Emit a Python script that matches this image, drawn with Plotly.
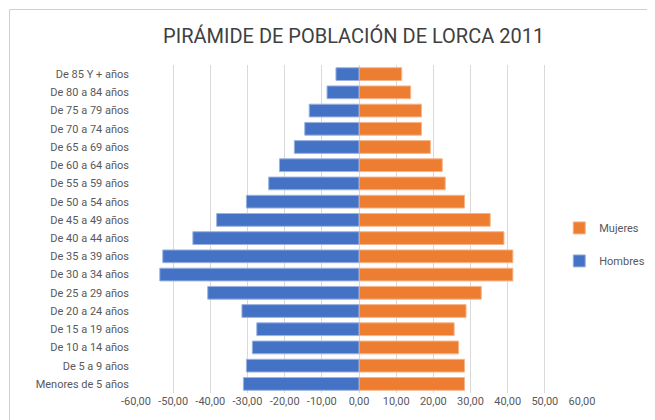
import plotly.graph_objects as go

categories = ["Menores de 5 años", "De 5 a 9 años", "De 10 a 14 años", "De 15 a 19 años",
              "De 20 a 24 años", "De 25 a 29 años", "De 30 a 34 años", "De 35 a 39 años",
              "De 40 a 44 años", "De 45 a 49 años", "De 50 a 54 años", "De 55 a 59 años",
              "De 60 a 64 años", "De 65 a 69 años", "De 70 a 74 años", "De 75 a 79 años",
              "De 80 a 84 años", "De 85 Y + años"]
hombres = [-31.1, -30.3, -28.7, -27.5, -31.5, -40.7, -53.6, -52.8, -44.7, -38.3,
           -30.3, -24.3, -21.4, -17.4, -14.6, -13.4, -8.6, -6.2]
mujeres = [28.4, 28.4, 26.8, 25.6, 28.8, 32.9, 41.4, 41.4, 39.0, 35.3,
           28.4, 23.2, 22.4, 19.2, 16.8, 16.8, 13.9, 11.5]
tick_vals = [-60, -50, -40, -30, -20, -10, 0, 10, 20, 30, 40, 50, 60]
tick_text = ["-60,00", "-50,00", "-40,00", "-30,00", "-20,00", "-10,00", "0,00",
             "10,00", "20,00", "30,00", "40,00", "50,00", "60,00"]

FONT = "Roboto, Arial, sans-serif"

fig = go.Figure()
fig.add_trace(go.Bar(y=categories, x=mujeres, orientation="h", name="Mujeres",
                     legendgroup="m",
                     marker=dict(color="#ED7D31", line=dict(color="#f6b48a", width=1))))
fig.add_trace(go.Bar(y=categories, x=hombres, orientation="h", name="Hombres",
                     legendgroup="h",
                     marker=dict(color="#4472C4", line=dict(color="#9db3e0", width=1))))

fig.update_layout(
    width=655, height=420,
    margin=dict(l=128, r=81, t=57, b=35, autoexpand=False),
    paper_bgcolor="white", plot_bgcolor="white",
    barmode="relative", bargap=0.3,
    title=dict(text="PIRÁMIDE DE POBLACIÓN DE LORCA 2011", x=0.488, xref="paper",
               xanchor="center", yref="container", y=1 - 28 / 420, yanchor="middle",
               font=dict(family=FONT, size=20, color="#404040")),
    font=dict(family=FONT, size=11, color="#595959"),
    legend=dict(x=0.949, y=0.453, xanchor="left", yanchor="middle",
                traceorder="grouped",
                font=dict(family=FONT, size=11, color="#595959"), itemwidth=30,
                tracegroupgap=14, bgcolor="rgba(0,0,0,0)"),
    showlegend=True,
    xaxis=dict(range=[-60, 60], tickvals=tick_vals, ticktext=tick_text, tickangle=0,
               automargin=False,
               showgrid=True, gridcolor="#d9d9d9", gridwidth=1, zeroline=True,
               zerolinecolor="#d9d9d9", zerolinewidth=1, showline=False,
               tickfont=dict(family=FONT, size=11, color="#595959"), ticks=""),
    yaxis=dict(showgrid=False, showline=False, zeroline=False, ticks="", automargin=False,
               tickfont=dict(family=FONT, size=11, color="#595959"), ticklabelstandoff=6),
)

# chart border (top and left edges of the chart area)
bx = (1.5 - 128) / 446
by = (385 - 1.5) / 328
fig.add_shape(type="line", xref="paper", yref="paper", x0=bx, x1=1.3, y0=by, y1=by,
              line=dict(color="#d0d0d0", width=1))
fig.add_shape(type="line", xref="paper", yref="paper", x0=bx, x1=bx, y0=-0.2, y1=by,
              line=dict(color="#d0d0d0", width=1))

fig.write_html("out.html")
